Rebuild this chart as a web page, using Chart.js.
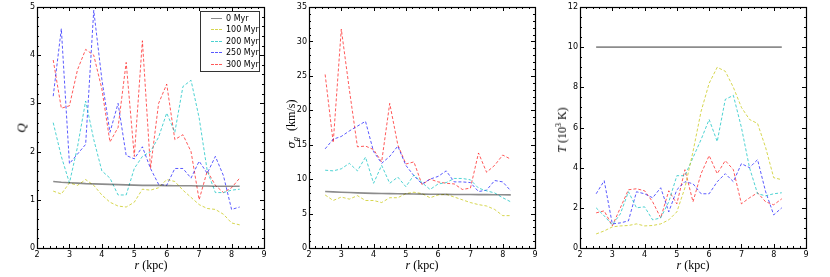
<!DOCTYPE html>
<html><head><meta charset="utf-8">
<script src="https://cdn.jsdelivr.net/npm/chart.js@4/dist/chart.umd.min.js"></script>
<style>
html,body{margin:0;padding:0;background:#fff;}
#wrap{position:relative;width:830px;height:277px;overflow:hidden;}
canvas{position:absolute;top:0;}
.xt,.yt{position:absolute;font-family:"Liberation Serif",serif;font-size:12px;color:#000;white-space:nowrap;line-height:1;z-index:5;}
.xt{transform:translateX(-50%);}
.yt{transform:translate(-50%,-50%) rotate(-90deg);}
.gr{font-family:"DejaVu Serif",serif;font-style:italic;font-size:11px;}
sub,sup{font-size:8px;line-height:0;}
#legend{position:absolute;left:200px;top:11px;width:58px;height:59px;border:1px solid #333;background:#fff;font-family:"DejaVu Sans",sans-serif;font-size:8px;z-index:5;}
#legend .row{position:absolute;left:0;height:11px;}
#legend .smp{position:absolute;left:10px;width:11px;top:5px;border-top-width:1px;}
#legend .lbl{position:absolute;left:25px;top:0;line-height:11px;}
</style></head>
<body><div id="wrap">
<canvas id="c1" width="275" height="277" style="left:0;width:275px;height:277px"></canvas>
<canvas id="c2" width="280" height="277" style="left:270px;width:280px;height:277px"></canvas>
<canvas id="c3" width="280" height="277" style="left:550px;width:280px;height:277px"></canvas>
<div class="xt" style="left:151px;top:259px"><i>r</i> (kpc)</div>
<div class="xt" style="left:422px;top:259px"><i>r</i> (kpc)</div>
<div class="xt" style="left:693px;top:259px"><i>r</i> (kpc)</div>
<div class="yt" style="left:21px;top:128px;font-size:13px"><i>Q</i></div>
<div class="yt" style="left:291px;top:124px"><span class="gr">σ</span><sub><i>g</i></sub>&nbsp; (km/s)</div>
<div class="yt" style="left:562px;top:130px"><i>T</i> (10<sup>3</sup> K)</div>
<div id="legend"></div>
</div>
<script>
// ---- data ----
const radii = [2.5,2.75,3.0,3.25,3.5,3.75,4.0,4.25,4.5,4.75,5.0,5.25,5.5,5.75,6.0,6.25,6.5,6.75,7.0,7.25,7.5,7.75,8.0,8.25];
const seriesNames = ["0 Myr","100 Myr","200 Myr","250 Myr","300 Myr"];

const q0   = [1.38,1.365,1.355,1.345,1.335,1.33,1.325,1.32,1.315,1.31,1.305,1.30,1.30,1.30,1.295,1.29,1.29,1.29,1.285,1.285,1.28,1.28,1.28,1.28];
const q100 = [1.18,1.12,1.35,1.30,1.42,1.30,1.10,0.95,0.87,0.85,0.95,1.22,1.20,1.25,1.42,1.38,1.20,1.05,0.90,0.82,0.80,0.70,0.52,0.48];
const q200 = [2.6,1.9,1.35,2.1,3.05,2.25,1.6,1.45,1.1,1.1,1.65,1.9,2.0,2.3,2.8,2.4,3.35,3.48,2.7,1.6,1.15,1.15,1.2,1.22];
const q250 = [3.15,4.55,1.75,1.95,2.15,4.93,3.5,2.4,3.0,1.92,1.85,2.1,1.65,1.32,1.3,1.65,1.65,1.45,1.8,1.55,1.9,1.5,0.8,0.85];
const q300 = [3.9,2.9,2.95,3.7,4.12,4.0,3.3,2.2,2.5,3.85,1.9,4.3,1.65,3.0,3.4,2.25,2.35,2.0,1.0,1.6,1.3,1.15,1.25,1.45];

const s0   = [8.2,8.15,8.1,8.05,8.0,7.97,7.94,7.92,7.9,7.88,7.86,7.84,7.82,7.81,7.8,7.79,7.78,7.77,7.76,7.75,7.75,7.74,7.73,7.72];
const s100 = [7.7,6.9,7.4,7.1,7.6,6.9,6.9,6.6,7.3,7.3,7.9,8.1,7.9,7.3,7.7,7.8,7.4,7.0,6.6,6.3,6.1,5.6,4.7,4.7];
const s200 = [11.3,11.2,11.5,12.3,11.2,13.2,9.4,12.0,9.4,10.3,8.9,10.6,9.5,8.5,9.3,9.5,10.1,10.1,9.9,8.7,8.3,8.0,7.3,6.7];
const s250 = [14.4,15.8,16.2,17.0,17.7,18.4,14.0,12.3,13.3,14.8,12.0,10.5,9.3,10.0,10.4,11.2,9.6,9.6,9.5,8.2,8.4,9.8,9.6,8.3];
const s300 = [25.2,15.3,31.8,23.0,14.7,14.8,14.3,12.5,21.0,15.0,12.2,12.5,9.2,10.0,9.6,9.4,9.3,8.5,8.7,13.8,11.0,12.0,13.5,12.9];

const t0   = [10,10,10,10,10,10,10,10,10,10,10,10,10,10,10,10,10,10,10,10,10,10,10,10];
const t100 = [0.7,0.85,1.05,1.1,1.12,1.2,1.1,1.12,1.2,1.4,1.8,3.0,4.8,6.8,8.2,9.0,8.8,8.0,7.0,6.4,6.2,5.0,3.5,3.4];
const t200 = [2.0,1.6,1.15,1.7,2.8,2.0,2.05,1.4,1.5,2.3,3.6,3.6,4.5,5.4,6.4,5.3,7.4,7.6,6.0,4.0,2.7,2.6,2.7,2.75];
const t250 = [2.7,3.35,1.2,1.25,1.35,2.8,2.7,2.5,3.0,1.8,2.9,3.3,3.2,2.7,2.7,3.3,3.7,3.3,4.2,4.0,4.4,2.8,1.65,2.0];
const t300 = [1.75,1.85,1.1,2.0,2.9,2.95,2.85,2.3,1.5,2.85,2.2,3.9,2.3,3.7,4.6,3.7,4.35,3.9,2.2,2.5,2.75,2.3,2.15,2.45];

const xTicks = [2,3,4,5,6,7,8,9];
const qTicks = [0,1,2,3,4,5];
const sTicks = [0,5,10,15,20,25,30,35];
const tTicks = [0,2,4,6,8,10,12];

// ---- styles ----
const styles = [
  {color:"rgba(0,0,0,0.45)", width:1.6, dash:[]},
  {color:"rgba(200,200,20,0.75)", width:1, dash:[3,2]},
  {color:"rgba(0,191,191,0.7)", width:1, dash:[3,2]},
  {color:"rgba(0,0,255,0.65)", width:1, dash:[3,2]},
  {color:"rgba(255,0,0,0.65)", width:1, dash:[3,2]}
];

function mkDatasets(arrs){
  return arrs.map((a,i)=>({
    label: seriesNames[i],
    data: radii.map((r,j)=>({x:r,y:a[j]})),
    borderColor: styles[i].color,
    borderWidth: styles[i].width,
    borderDash: styles[i].dash,
    pointRadius: 0,
    tension: 0,
    fill: false
  }));
}

const frameTicks = {
  id:'frameTicks',
  afterDatasetsDraw(chart, args, o){
    const ctx = chart.ctx, a = chart.chartArea;
    const xs = chart.scales.x, ys = chart.scales.y;
    ctx.save();
    ctx.strokeStyle = '#000';
    ctx.lineWidth = 1;
    ctx.setLineDash([]);
    ctx.beginPath();
    function ticksAlong(scale, minor, major, horiz){
      const n = Math.round((scale.max-scale.min)/minor);
      for(let k=0;k<=n;k++){
        const v = scale.min + k*minor;
        const isMajor = Math.abs(v/major - Math.round(v/major)) < 1e-6;
        const len = isMajor ? 4 : 2;
        const p = Math.round(scale.getPixelForValue(v))+0.5;
        if(horiz){
          ctx.moveTo(p,a.bottom); ctx.lineTo(p,a.bottom-len);
          ctx.moveTo(p,a.top); ctx.lineTo(p,a.top+len);
        } else {
          ctx.moveTo(a.left,p); ctx.lineTo(a.left+len,p);
          ctx.moveTo(a.right,p); ctx.lineTo(a.right-len,p);
        }
      }
    }
    ticksAlong(xs, o.xMinor, 1, true);
    ticksAlong(ys, o.yMinor, o.yMajor, false);
    ctx.stroke();
    ctx.lineWidth = 1.2;
    ctx.strokeRect(Math.round(a.left)+0.5, Math.round(a.top)+0.5, Math.round(a.right-a.left), Math.round(a.bottom-a.top));
    ctx.restore();
  }
};

function mkChart(id, arrs, yMax, yTicks, yMajor, yMinor, yWidth, padRight){
  new Chart(document.getElementById(id), {
    type:'line',
    data:{datasets: mkDatasets(arrs)},
    plugins:[frameTicks],
    options:{
      responsive:false, animation:false, devicePixelRatio:1,
      layout:{padding:{top:7,right:padRight,left:0,bottom:0}},
      plugins:{legend:{display:false}, tooltip:{enabled:false}, frameTicks:{xMinor:0.2, yMajor:yMajor, yMinor:yMinor}},
      scales:{
        x:{type:'linear', min:2, max:9,
           afterBuildTicks(s){ s.ticks = xTicks.map(v=>({value:v})); },
           afterFit(s){ s.height = 29; },
           ticks:{color:'#000', font:{family:'DejaVu Sans', size:8}, padding:2, maxRotation:0, autoSkip:false},
           grid:{display:false, drawTicks:false}, border:{display:false}},
        y:{type:'linear', min:0, max:yMax,
           afterBuildTicks(s){ s.ticks = yTicks.map(v=>({value:v})); },
           afterFit(s){ s.width = yWidth; },
           ticks:{color:'#000', font:{family:'DejaVu Sans', size:8}, padding:2, autoSkip:false},
           grid:{display:false, drawTicks:false}, border:{display:false}}
      }
    }
  });
}

mkChart('c1', [q0,q100,q200,q250,q300], 5, qTicks, 1, 0.2, 37, 11);
mkChart('c2', [s0,s100,s200,s250,s300], 35, sTicks, 5, 1, 39, 15);
mkChart('c3', [t0,t100,t200,t250,t300], 12, tTicks, 2, 0.5, 30, 24);

// legend
const lg = document.getElementById('legend');
seriesNames.forEach((n,i)=>{
  const row = document.createElement('div');
  row.className='row';
  row.style.top = (1 + i*11.4) + 'px';
  row.style.width='58px';
  const s = document.createElement('div');
  s.className='smp';
  s.style.borderTopStyle = i===0 ? 'solid' : 'dashed';
  s.style.borderTopColor = styles[i].color;
  s.style.borderTopWidth = (i===0?1.5:1)+'px';
  const l = document.createElement('div');
  l.className='lbl'; l.textContent = n;
  row.appendChild(s); row.appendChild(l);
  lg.appendChild(row);
});
</script>
</body></html>
